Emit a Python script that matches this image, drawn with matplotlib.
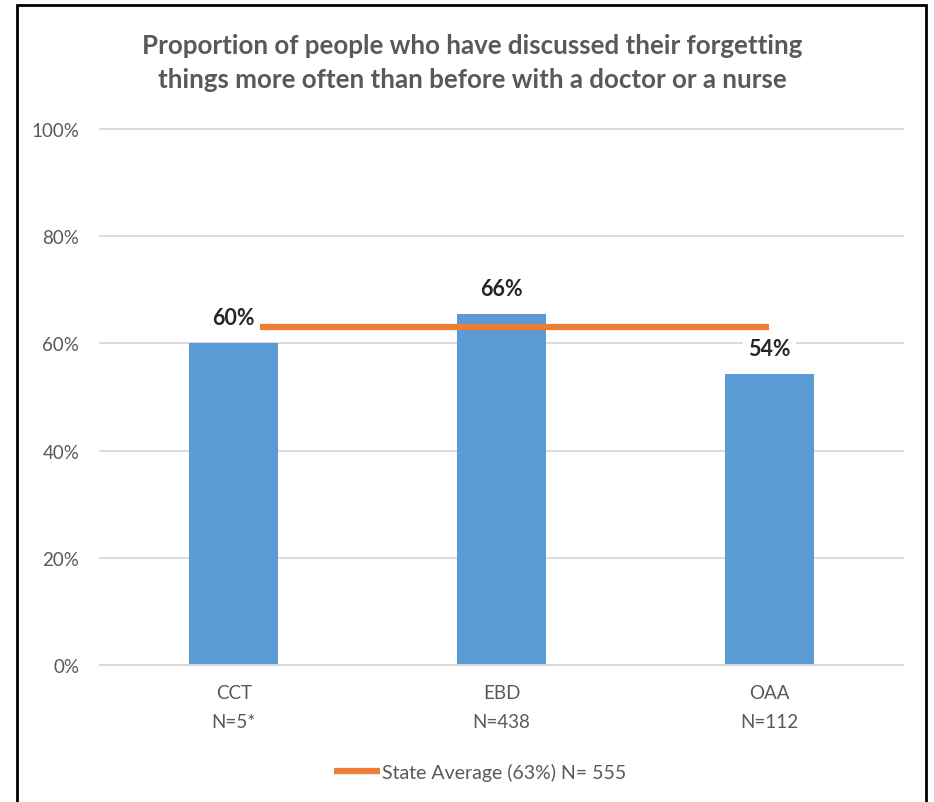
import matplotlib
matplotlib.use("Agg")
import matplotlib.pyplot as plt
from matplotlib.patches import Rectangle

plt.rcParams['font.family'] = ['Lato', 'DejaVu Sans']

# Data
categories = ['CCT', 'EBD', 'OAA']
sample_sizes = ['N=5*', 'N=438', 'N=112']
values = [60, 65.5, 54.3]
value_labels = ['60%', '66%', '54%']
state_average = [63, 63, 63]
legend_label = 'State Average (63%) N= 555'
title = ('Proportion of people who have discussed their forgetting\n'
         'things more often than before with a doctor or a nurse')

BAR_COLOR = '#5b9bd5'
LINE_COLOR = '#ed7d31'
GRAY = '#595959'

fig = plt.figure(figsize=(9.34, 8.03), dpi=100)
ax = fig.add_axes([100 / 934, 137 / 803, 803 / 934, 536 / 803])

x = list(range(len(categories)))
ax.bar(x, values, width=0.333, color=BAR_COLOR, zorder=2)
line, = ax.plot(x, state_average, color=LINE_COLOR, lw=4.5,
                solid_capstyle='butt', zorder=3, label=legend_label)

for xi, v, lab in zip(x, values, value_labels):
    ax.annotate(lab, (xi, v), xytext=(0, 11), textcoords='offset points',
                ha='center', va='bottom', fontsize=15.5, fontweight='bold',
                color='#262626', zorder=5,
                bbox=dict(boxstyle='square,pad=0.25', fc='white', ec='none'))

ax.set_xlim(-0.5, 2.5)
ax.set_ylim(0, 100)
ax.set_yticks([0, 20, 40, 60, 80, 100])
ax.set_yticklabels([f'{t}%' for t in [0, 20, 40, 60, 80, 100]])
ax.set_xticks(x)
ax.set_xticklabels([f'{c}\n{n}' for c, n in zip(categories, sample_sizes)],
                   linespacing=1.8)
ax.tick_params(axis='both', length=0, labelsize=13.5, labelcolor=GRAY)
ax.tick_params(axis='y', pad=15)
ax.tick_params(axis='x', pad=14)
ax.grid(axis='y', color='#d9d9d9', lw=1.3, zorder=0)
for gl in ax.get_ygridlines():
    gl.set_clip_on(False)
ax.set_axisbelow(True)
for side in ['top', 'right', 'left']:
    ax.spines[side].set_visible(False)
ax.spines['bottom'].set_color('#d9d9d9')
ax.spines['bottom'].set_linewidth(1.3)

fig.text(472 / 934, 1 - 63 / 803, title, ha='center', va='center',
         fontsize=18.6, fontweight='bold', color=GRAY, linespacing=1.55)

fig.legend(handles=[line], loc='center', bbox_to_anchor=(480 / 934, 1 - 773 / 803),
           frameon=False, fontsize=14, handlelength=2.4, handletextpad=0.1,
           labelcolor=GRAY)

# outer frame like the screenshot border
fig.add_artist(Rectangle((17 / 934, -0.05), 909 / 934, 1.05 - 6 / 803,
                         transform=fig.transFigure, fill=False,
                         ec='black', lw=2, clip_on=False))

fig.savefig('out.png', dpi=100)
